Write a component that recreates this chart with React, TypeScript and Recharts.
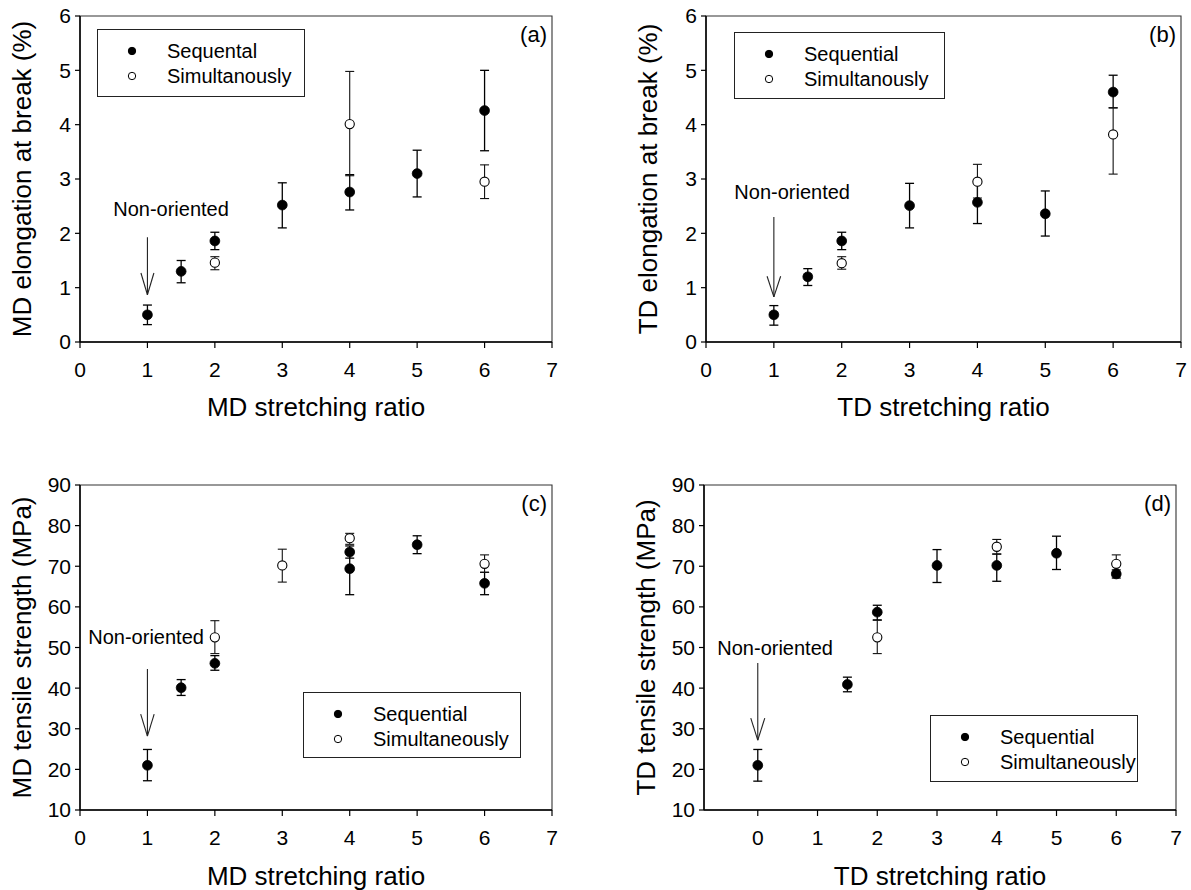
import React from 'react';
import {
  ScatterChart,
  Scatter,
  XAxis,
  YAxis,
  ErrorBar,
  ReferenceLine,
  ReferenceDot,
  ReferenceArea,
  Legend,
  Label,
} from 'recharts';

const FONT = '"Liberation Sans", Arial, Helvetica, sans-serif';

// ---------- Panel (a): MD elongation at break ----------
const aSeqX = [1, 1.5, 2, 3, 4, 5, 6];
const aSeqY = [0.5, 1.3, 1.86, 2.52, 2.76, 3.1, 4.26];
const aSeqErrLo = [0.18, 0.21, 0.16, 0.42, 0.33, 0.43, 0.74];
const aSeqErrHi = [0.18, 0.2, 0.16, 0.41, 0.32, 0.43, 0.74];
const aSimX = [2, 4, 6];
const aSimY = [1.46, 4.01, 2.95];
const aSimErrLo = [0.13, 0.95, 0.31];
const aSimErrHi = [0.11, 0.97, 0.31];
const aNames = ['Sequental', 'Simultanously'];

// ---------- Panel (b): TD elongation at break ----------
const bSeqX = [1, 1.5, 2, 3, 4, 5, 6];
const bSeqY = [0.5, 1.2, 1.86, 2.51, 2.57, 2.36, 4.6];
const bSeqErrLo = [0.19, 0.16, 0.16, 0.41, 0.39, 0.41, 0.29];
const bSeqErrHi = [0.17, 0.15, 0.16, 0.41, 0.39, 0.42, 0.31];
const bSimX = [2, 4, 6];
const bSimY = [1.45, 2.95, 3.82];
const bSimErrLo = [0.11, 0.3, 0.73];
const bSimErrHi = [0.12, 0.32, 0.49];
const bNames = ['Sequential', 'Simultanously'];

// ---------- Panel (c): MD tensile strength ----------
const cSeqX = [1, 1.5, 2, 4, 4, 5, 6];
const cSeqY = [21, 40.1, 46.1, 73.5, 69.4, 75.3, 65.8];
const cSeqErrLo = [3.8, 1.9, 1.7, 1.5, 6.4, 2.2, 2.8];
const cSeqErrHi = [3.9, 2.0, 1.9, 1.5, 4.0, 2.2, 2.7];
const cSimX = [2, 3, 4, 6];
const cSimY = [52.5, 70.2, 76.9, 70.6];
const cSimErrLo = [4.0, 4.1, 1.5, 2.1];
const cSimErrHi = [4.1, 4.0, 1.2, 2.2];
const cNames = ['Sequential', 'Simultaneously'];

// ---------- Panel (d): TD tensile strength ----------
const dSeqX = [0, 1.5, 2, 3, 4, 5, 6];
const dSeqY = [21, 40.9, 58.7, 70.2, 70.2, 73.2, 68.1];
const dSeqErrLo = [3.9, 1.8, 1.9, 4.2, 3.9, 4.0, 1.0];
const dSeqErrHi = [3.9, 1.8, 1.7, 3.9, 2.8, 4.2, 1.0];
const dSimX = [2, 4, 6];
const dSimY = [52.5, 74.8, 70.6];
const dSimErrLo = [4.0, 1.8, 2.1];
const dSimErrHi = [4.2, 1.8, 2.2];
const dNames = ['Sequential', 'Simultaneously'];

// ---------- ticks ----------
const xTicks = [0, 1, 2, 3, 4, 5, 6, 7];
const yTicksElong = [0, 1, 2, 3, 4, 5, 6];
const yTicksTensile = [10, 20, 30, 40, 50, 60, 70, 80, 90];

type Pt = { x: number; y: number; err: [number, number] };
const build = (xs: number[], ys: number[], lo: number[], hi: number[]): Pt[] =>
  xs.map((x, i) => ({ x, y: ys[i], err: [lo[i], hi[i]] }));

type PanelCfg = {
  box: [number, number, number, number];
  plot: [number, number, number, number];
  xDomain: [number, number];
  yDomain: [number, number];
  yTicks: number[];
  xTitle: string;
  yTitle: string;
  xTitleY: number;
  yTitleX: number;
  panelLabel: string;
  names: string[];
  seq: Pt[];
  sim: Pt[];
  legendBox: [number, number, number, number];
  arrow: { x: number; yFrom: number; yTo: number; headY: number; headHalf: number; textX: number; textY: number };
};

const filledDot = (props: any) =>
  props.cx == null ? <g /> : <circle cx={props.cx} cy={props.cy} r={4.9} fill="#000" stroke="#000" strokeWidth={0.8} />;
const openDot = (props: any) =>
  props.cx == null ? <g /> : <circle cx={props.cx} cy={props.cy} r={4.6} fill="#fff" stroke="#000" strokeWidth={1.1} />;

function Panel({ cfg }: { cfg: PanelCfg }) {
  const [L, T, W, H] = cfg.box;
  const pl = cfg.plot[0] - L;
  const pt = cfg.plot[1] - T;
  const pr = cfg.plot[2] - L;
  const pb = cfg.plot[3] - T;
  const XAH = 40;
  const [lx, ly, lw, lh] = cfg.legendBox;
  const a = cfg.arrow;

  const xTitle = () => (
    <text
      x={(pl + pr) / 2}
      y={cfg.xTitleY - T}
      textAnchor="middle"
      dominantBaseline="central"
      fontSize={26}
      fontFamily={FONT}
      fill="#000"
    >
      {cfg.xTitle}
    </text>
  );
  const yTitle = () => {
    const cx = cfg.yTitleX - L;
    const cy = (pt + pb) / 2;
    return (
      <text
        x={cx}
        y={cy}
        transform={`rotate(-90 ${cx} ${cy})`}
        textAnchor="middle"
        dominantBaseline="central"
        fontSize={26}
        fontFamily={FONT}
        fill="#000"
      >
        {cfg.yTitle}
      </text>
    );
  };

  const legendContent = () => (
    <div
      style={{
        width: lw,
        height: lh,
        boxSizing: 'border-box',
        border: '1.3px solid #222',
        background: '#fff',
        position: 'relative',
        fontFamily: FONT,
        fontSize: 20,
        color: '#000',
      }}
    >
      {cfg.names.map((n, i) => (
        <div key={n} style={{ position: 'absolute', left: 0, top: 21 + i * 25 - 12, height: 24, width: '100%' }}>
          <svg style={{ position: 'absolute', left: 34 - 6, top: 6 }} width={12} height={12}>
            <circle cx={6} cy={6} r={3.7} fill={i === 0 ? '#000' : '#fff'} stroke="#000" strokeWidth={1} />
          </svg>
          <span style={{ position: 'absolute', left: 69, top: 0, lineHeight: '24px', whiteSpace: 'nowrap' }}>{n}</span>
        </div>
      ))}
    </div>
  );

  return (
    <div style={{ position: 'absolute', left: L, top: T, width: W, height: H }}>
      <ScatterChart
        width={W}
        height={H}
        margin={{ top: pt, right: W - pr, bottom: H - pb - XAH, left: 0 }}
        style={{ fontFamily: FONT }}
      >
        <XAxis
          type="number"
          dataKey="x"
          domain={cfg.xDomain}
          ticks={xTicks}
          interval={0}
          allowDataOverflow
          height={XAH}
          tickSize={6}
          tickMargin={14}
          tick={{ fontSize: 21, fill: '#000', fontFamily: FONT }}
          axisLine={{ stroke: '#000', strokeWidth: 1.5 }}
          tickLine={{ stroke: '#000', strokeWidth: 1.2 }}
        >
          <Label content={xTitle} />
        </XAxis>
        <YAxis
          type="number"
          dataKey="y"
          domain={cfg.yDomain}
          ticks={cfg.yTicks}
          interval={0}
          allowDataOverflow
          width={pl}
          tickSize={5}
          tickMargin={4}
          tick={{ fontSize: 21, fill: '#000', fontFamily: FONT }}
          axisLine={{ stroke: '#000', strokeWidth: 1.5 }}
          tickLine={{ stroke: '#000', strokeWidth: 1.2 }}
        >
          <Label content={yTitle} />
        </YAxis>
        <ReferenceArea
          x1={cfg.xDomain[0]}
          x2={cfg.xDomain[1]}
          y1={cfg.yDomain[0]}
          y2={cfg.yDomain[1]}
          fill="none"
          fillOpacity={0}
          stroke="#333"
          strokeWidth={1.1}
        />
        <ReferenceDot
          x={cfg.xDomain[1]}
          y={cfg.yDomain[1]}
          r={0}
          shape={(p: any) => (
            <text
              x={p.cx - 5}
              y={p.cy + 18}
              textAnchor="end"
              dominantBaseline="central"
              fontSize={22}
              fontFamily={FONT}
              fill="#000"
            >
              {cfg.panelLabel}
            </text>
          )}
        />
        <ReferenceLine segment={[{ x: a.x, y: a.yFrom }, { x: a.x, y: a.yTo }]} stroke="#222" strokeWidth={1.1} />
        <ReferenceLine segment={[{ x: a.x - a.headHalf, y: a.headY }, { x: a.x, y: a.yTo }]} stroke="#222" strokeWidth={1.1} />
        <ReferenceLine segment={[{ x: a.x + a.headHalf, y: a.headY }, { x: a.x, y: a.yTo }]} stroke="#222" strokeWidth={1.1} />
        <ReferenceDot
          x={a.textX}
          y={a.textY}
          r={0}
          shape={(p: any) => (
            <text
              x={p.cx}
              y={p.cy}
              textAnchor="middle"
              dominantBaseline="central"
              fontSize={20}
              fontFamily={FONT}
              fill="#000"
            >
              Non-oriented
            </text>
          )}
        />
        <Scatter name={cfg.names[0]} data={cfg.seq} isAnimationActive={false} shape={filledDot}>
          <ErrorBar dataKey="err" direction="y" width={4.5} stroke="#000" strokeWidth={1.3} isAnimationActive={false} />
        </Scatter>
        <Scatter name={cfg.names[1]} data={cfg.sim} isAnimationActive={false} shape={openDot}>
          <ErrorBar dataKey="err" direction="y" width={4.5} stroke="#111" strokeWidth={1.1} isAnimationActive={false} />
        </Scatter>
        <Legend
          layout="vertical"
          align="center"
          verticalAlign="middle"
          wrapperStyle={{ left: lx - L, top: ly - T, width: lw, height: lh, margin: 0, padding: 0 }}
          content={legendContent}
        />
      </ScatterChart>
    </div>
  );
}

const panels: PanelCfg[] = [
  {
    box: [0, 0, 595, 440],
    plot: [80, 16, 552, 342],
    xDomain: [0, 7],
    yDomain: [0, 6],
    yTicks: yTicksElong,
    xTitle: 'MD stretching ratio',
    yTitle: 'MD elongation at break (%)',
    xTitleY: 407,
    yTitleX: 22,
    panelLabel: '(a)',
    names: aNames,
    seq: build(aSeqX, aSeqY, aSeqErrLo, aSeqErrHi),
    sim: build(aSimX, aSimY, aSimErrLo, aSimErrHi),
    legendBox: [97, 29, 208, 68],
    arrow: { x: 1, yFrom: 1.93, yTo: 0.87, headY: 1.27, headHalf: 0.096, textX: 1.35, textY: 2.45 },
  },
  {
    box: [595, 0, 596, 440],
    plot: [706, 16, 1181, 342],
    xDomain: [0, 7],
    yDomain: [0, 6],
    yTicks: yTicksElong,
    xTitle: 'TD stretching ratio',
    yTitle: 'TD elongation at break (%)',
    xTitleY: 407,
    yTitleX: 648,
    panelLabel: '(b)',
    names: bNames,
    seq: build(bSeqX, bSeqY, bSeqErrLo, bSeqErrHi),
    sim: build(bSimX, bSimY, bSimErrLo, bSimErrHi),
    legendBox: [734, 32, 211, 67],
    arrow: { x: 1, yFrom: 2.3, yTo: 0.83, headY: 1.21, headHalf: 0.1, textX: 1.27, textY: 2.76 },
  },
  {
    box: [0, 440, 595, 450],
    plot: [80, 485, 552, 810],
    xDomain: [0, 7],
    yDomain: [10, 90],
    yTicks: yTicksTensile,
    xTitle: 'MD stretching ratio',
    yTitle: 'MD tensile strength (MPa)',
    xTitleY: 876,
    yTitleX: 22,
    panelLabel: '(c)',
    names: cNames,
    seq: build(cSeqX, cSeqY, cSeqErrLo, cSeqErrHi),
    sim: build(cSimX, cSimY, cSimErrLo, cSimErrHi),
    legendBox: [303, 692, 218, 66],
    arrow: { x: 1, yFrom: 44.7, yTo: 28.2, headY: 33.6, headHalf: 0.1, textX: 0.98, textY: 52.6 },
  },
  {
    box: [595, 440, 596, 450],
    plot: [704, 485, 1176, 810],
    xDomain: [-0.9, 7],
    yDomain: [10, 90],
    yTicks: yTicksTensile,
    xTitle: 'TD stretching ratio',
    yTitle: 'TD tensile strength (MPa)',
    xTitleY: 876,
    yTitleX: 646,
    panelLabel: '(d)',
    names: dNames,
    seq: build(dSeqX, dSeqY, dSeqErrLo, dSeqErrHi),
    sim: build(dSimX, dSimY, dSimErrLo, dSimErrHi),
    legendBox: [930, 715, 208, 67],
    arrow: { x: 0, yFrom: 46.2, yTo: 27.2, headY: 32.6, headHalf: 0.117, textX: 0.29, textY: 49.9 },
  },
];

export default function App() {
  return (
    <div
      style={{
        position: 'absolute',
        left: 0,
        top: 0,
        width: 1191,
        height: 890,
        background: '#fff',
        fontFamily: FONT,
        overflow: 'hidden',
      }}
    >
      {panels.map((cfg) => (
        <Panel key={cfg.panelLabel} cfg={cfg} />
      ))}
    </div>
  );
}
